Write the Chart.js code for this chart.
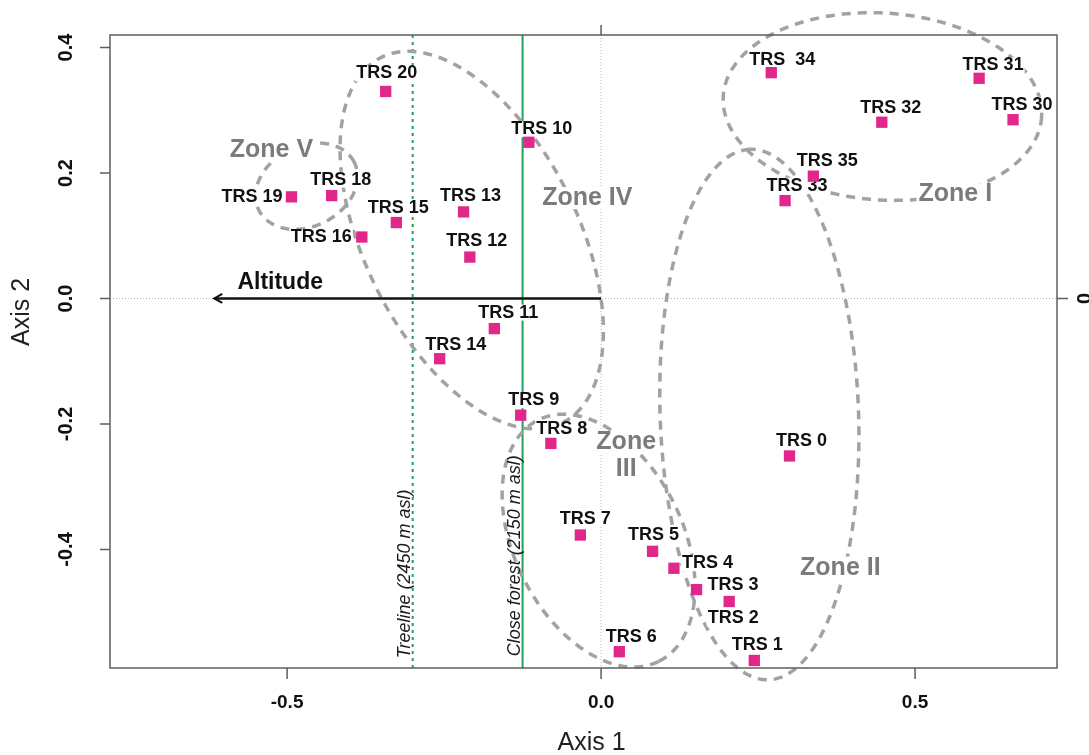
<!DOCTYPE html>
<html>
<head>
<meta charset="utf-8">
<script src="https://cdn.jsdelivr.net/npm/chart.js@4/dist/chart.umd.min.js"></script>
<style>
  html, body { margin: 0; padding: 0; background: #ffffff; }
  #wrap { width: 1089px; height: 755px; }
</style>
</head>
<body>
<div id="wrap"><canvas id="ord" width="1089" height="755"></canvas></div>
<script>
// Site scores on the first two ordination axes
const siteNames = ['TRS 0', 'TRS 1', 'TRS 2', 'TRS 3', 'TRS 4', 'TRS 5', 'TRS 6', 'TRS 7', 'TRS 8', 'TRS 9',
  'TRS 10', 'TRS 11', 'TRS 12', 'TRS 13', 'TRS 14', 'TRS 15', 'TRS 16', 'TRS 18', 'TRS 19', 'TRS 20',
  'TRS 30', 'TRS 31', 'TRS 32', 'TRS 33', 'TRS  34', 'TRS 35'];
const axis1Scores = [0.300, 0.244, 0.204, 0.152, 0.116, 0.082, 0.029, -0.033, -0.080, -0.128,
  -0.115, -0.170, -0.209, -0.219, -0.257, -0.326, -0.381, -0.429, -0.493, -0.343,
  0.656, 0.602, 0.447, 0.293, 0.271, 0.338];
const axis2Scores = [-0.251, -0.577, -0.483, -0.464, -0.430, -0.403, -0.563, -0.377, -0.231, -0.186,
  0.249, -0.048, 0.066, 0.138, -0.096, 0.121, 0.098, 0.164, 0.162, 0.330,
  0.285, 0.351, 0.281, 0.156, 0.360, 0.195];

// Axis ranges and ticks
const axis1Range = [-0.782, 0.726];
const axis2Range = [-0.589, 0.420];
const axis1Ticks = [-0.5, 0.0, 0.5];
const axis1TickLabels = ['-0.5', '0.0', '0.5'];
const axis2Ticks = [-0.4, -0.2, 0.0, 0.2, 0.4];
const axis2TickLabels = ['-0.4', '-0.2', '0.0', '0.2', '0.4'];

// Altitude vector (from the origin)
const vectorName = 'Altitude';
const vectorEnd = [-0.616, 0.0];

// Altitudinal limits projected on axis 1
const limitNames = ['Treeline (2450 m asl)', 'Close forest (2150 m asl)'];
const limitAxis1 = [-0.300, -0.125];
const limitLabelAxis2 = [-0.439, -0.410];

// Vegetation zones drawn as ellipses (centre, semi-axes, orientation in degrees)
const zoneNames = ['Zone I', 'Zone II', 'Zone\nIII', 'Zone IV', 'Zone V'];
const zoneCentreX = [0.448, 0.252, -0.004, -0.206, -0.469];
const zoneCentreY = [0.306, -0.185, -0.386, 0.093, 0.179];
const zoneSemiA = [0.254, 0.423, 0.215, 0.325, 0.085];
const zoneSemiB = [0.149, 0.158, 0.134, 0.170, 0.064];
const zoneAngle = [-3.8, 92, -63.5, -63.7, 26.8];
const zoneLabelX = [0.564, 0.381, 0.040, -0.022, -0.525];
const zoneLabelY = [0.166, -0.429, -0.251, 0.160, 0.236];

// Where each site label sits relative to its marker (pixels) and how it is aligned
const labelPlacement = {
  'TRS 0': [12, -15, 'center'], 'TRS 1': [3, -15, 'center'], 'TRS 2': [4, 17, 'center'],
  'TRS 3': [11, -5, 'left'], 'TRS 4': [8, -5, 'left'], 'TRS 5': [1, -16, 'center'],
  'TRS 6': [12, -15, 'center'], 'TRS 7': [5, -16, 'center'], 'TRS 8': [11, -14, 'center'],
  'TRS 9': [13, -15, 'center'], 'TRS 10': [13, -13, 'center'], 'TRS 11': [14, -16, 'center'],
  'TRS 12': [7, -16, 'center'], 'TRS 13': [7, -16, 'center'], 'TRS 14': [16, -14, 'center'],
  'TRS 15': [2, -15, 'center'], 'TRS 16': [-10, 0, 'right'], 'TRS 18': [9, -16, 'center'],
  'TRS 19': [-9, 0, 'right'], 'TRS 20': [1, -18, 'center'], 'TRS 30': [9, -15, 'center'],
  'TRS 31': [14, -13, 'center'], 'TRS 32': [9, -14, 'center'], 'TRS 33': [12, -15, 'center'],
  'TRS  34': [11, -13, 'center'], 'TRS 35': [14, -15, 'center']
};

const FONT = "'Liberation Sans', Arial, Helvetica, sans-serif";
const points = siteNames.map((n, i) => ({ x: axis1Scores[i], y: axis2Scores[i], name: n }));

function rotatedText(ctx, text, px, py, angle) {
  ctx.save();
  ctx.translate(px, py);
  ctx.rotate(angle);
  ctx.fillText(text, 0, 0);
  ctx.restore();
}

const ordinationLayers = {
  id: 'ordinationLayers',
  beforeDatasetsDraw(chart) {
    const { ctx, chartArea: ca } = chart;
    const xs = chart.scales.x, ys = chart.scales.y;
    ctx.save();

    // dotted zero lines
    ctx.strokeStyle = '#b5b5b5';
    ctx.lineWidth = 1;
    ctx.setLineDash([1, 2]);
    const x0 = xs.getPixelForValue(0), y0 = ys.getPixelForValue(0);
    ctx.beginPath();
    ctx.moveTo(x0, ca.top); ctx.lineTo(x0, ca.bottom);
    ctx.moveTo(ca.left, y0); ctx.lineTo(ca.right, y0);
    ctx.stroke();

    // altitudinal limits
    ctx.strokeStyle = '#22a05a';
    ctx.lineWidth = 2;
    limitAxis1.forEach((v, i) => {
      ctx.setLineDash(i === 0 ? [3, 4] : []);
      const px = xs.getPixelForValue(v);
      ctx.beginPath();
      ctx.moveTo(px, ca.top); ctx.lineTo(px, ca.bottom);
      ctx.stroke();
    });

    // zone ellipses
    ctx.strokeStyle = '#a2a2a2';
    ctx.lineWidth = 3.5;
    ctx.setLineDash([9, 7]);
    zoneNames.forEach((z, i) => {
      const phi = zoneAngle[i] * Math.PI / 180;
      ctx.beginPath();
      for (let k = 0; k <= 240; k++) {
        const t = k / 240 * 2 * Math.PI;
        const da = zoneSemiA[i] * Math.cos(t), db = zoneSemiB[i] * Math.sin(t);
        const vx = zoneCentreX[i] + da * Math.cos(phi) - db * Math.sin(phi);
        const vy = zoneCentreY[i] + da * Math.sin(phi) + db * Math.cos(phi);
        const px = xs.getPixelForValue(vx), py = ys.getPixelForValue(vy);
        if (k === 0) ctx.moveTo(px, py); else ctx.lineTo(px, py);
      }
      ctx.closePath();
      ctx.stroke();
    });
    ctx.setLineDash([]);

    // altitude vector
    const ax = xs.getPixelForValue(vectorEnd[0]), ay = ys.getPixelForValue(vectorEnd[1]);
    ctx.strokeStyle = '#111111';
    ctx.lineWidth = 2.5;
    ctx.beginPath();
    ctx.moveTo(x0, y0); ctx.lineTo(ax, ay);
    ctx.stroke();
    ctx.lineWidth = 2;
    ctx.beginPath();
    ctx.moveTo(ax + 8, ay - 4.5); ctx.lineTo(ax, ay); ctx.lineTo(ax + 8, ay + 4.5);
    ctx.stroke();
    ctx.fillStyle = '#111111';
    ctx.font = 'bold 23px ' + FONT;
    ctx.textAlign = 'center';
    ctx.textBaseline = 'middle';
    ctx.fillText(vectorName, xs.getPixelForValue(-0.511), ys.getPixelForValue(0.026));

    // labels of the altitudinal limits
    ctx.font = 'italic 18px ' + FONT;
    ctx.fillStyle = '#1a1a1a';
    limitNames.forEach((n, i) => {
      rotatedText(ctx, n, xs.getPixelForValue(limitAxis1[i]) - 8, ys.getPixelForValue(limitLabelAxis2[i]), -Math.PI / 2);
    });

    // site labels
    ctx.font = 'bold 18px ' + FONT;
    ctx.textBaseline = 'middle';
    points.forEach(p => {
      const [dx, dy, align] = labelPlacement[p.name];
      const px = xs.getPixelForValue(p.x) + dx, py = ys.getPixelForValue(p.y) + dy;
      const w = ctx.measureText(p.name).width;
      const left = align === 'left' ? px : align === 'right' ? px - w : px - w / 2;
      ctx.fillStyle = '#ffffff';
      ctx.fillRect(left - 1, py - 8, w + 2, 16);
      ctx.fillStyle = '#111111';
      ctx.textAlign = align;
      ctx.fillText(p.name, px, py);
    });

    // zone labels
    ctx.font = 'bold 25px ' + FONT;
    ctx.textAlign = 'center';
    zoneNames.forEach((z, i) => {
      const lines = z.split('\n');
      const cx = xs.getPixelForValue(zoneLabelX[i]), cy = ys.getPixelForValue(zoneLabelY[i]);
      lines.forEach((ln, j) => {
        const ly = cy + (j - (lines.length - 1) / 2) * 27;
        const w = ctx.measureText(ln).width;
        ctx.fillStyle = '#ffffff';
        ctx.fillRect(cx - w / 2 - 2, ly - 11, w + 4, 22);
        ctx.fillStyle = '#7b7b7b';
        ctx.fillText(ln, cx, ly);
      });
    });
    ctx.restore();
  },
  afterDraw(chart) {
    const { ctx, chartArea: ca } = chart;
    const xs = chart.scales.x, ys = chart.scales.y;
    ctx.save();
    ctx.strokeStyle = '#5e5e5e';
    ctx.lineWidth = 1.5;
    ctx.strokeRect(ca.left, ca.top, ca.right - ca.left, ca.bottom - ca.top);

    // tick marks
    ctx.beginPath();
    axis1Ticks.forEach(v => { const px = xs.getPixelForValue(v); ctx.moveTo(px, ca.bottom); ctx.lineTo(px, ca.bottom + 11); });
    axis2Ticks.forEach(v => { const py = ys.getPixelForValue(v); ctx.moveTo(ca.left, py); ctx.lineTo(ca.left - 10, py); });
    const x0 = xs.getPixelForValue(0), y0 = ys.getPixelForValue(0);
    ctx.moveTo(x0, ca.top); ctx.lineTo(x0, ca.top - 10);
    ctx.moveTo(ca.right, y0); ctx.lineTo(ca.right + 11, y0);
    ctx.stroke();

    // tick labels
    ctx.fillStyle = '#111111';
    ctx.font = 'bold 19px ' + FONT;
    ctx.textAlign = 'center';
    ctx.textBaseline = 'middle';
    axis1Ticks.forEach((v, i) => ctx.fillText(axis1TickLabels[i], xs.getPixelForValue(v), ca.bottom + 35));
    ctx.font = 'bold 20px ' + FONT;
    axis2Ticks.forEach((v, i) => rotatedText(ctx, axis2TickLabels[i], ca.left - 44, ys.getPixelForValue(v), -Math.PI / 2));
    rotatedText(ctx, '0', ca.right + 28, y0, -Math.PI / 2);

    // axis titles
    ctx.fillStyle = '#222222';
    ctx.font = '25px ' + FONT;
    ctx.fillText('Axis 1', (ca.left + ca.right) / 2 + 8, ca.bottom + 75);
    rotatedText(ctx, 'Axis 2', 22, ca.top + 277, -Math.PI / 2);
    ctx.restore();
  }
};

new Chart(document.getElementById('ord'), {
  type: 'scatter',
  data: {
    datasets: [{
      label: 'Sites',
      data: points,
      pointStyle: 'rect',
      pointRadius: 8,
      pointHoverRadius: 8,
      backgroundColor: '#e2278b',
      borderWidth: 0
    }]
  },
  options: {
    responsive: false,
    animation: false,
    events: [],
    layout: { padding: { left: 110, top: 35, right: 32, bottom: 87 } },
    scales: {
      x: { type: 'linear', min: axis1Range[0], max: axis1Range[1], display: false },
      y: { type: 'linear', min: axis2Range[0], max: axis2Range[1], display: false }
    },
    plugins: { legend: { display: false }, tooltip: { enabled: false } }
  },
  plugins: [ordinationLayers]
});
</script>
</body>
</html>
